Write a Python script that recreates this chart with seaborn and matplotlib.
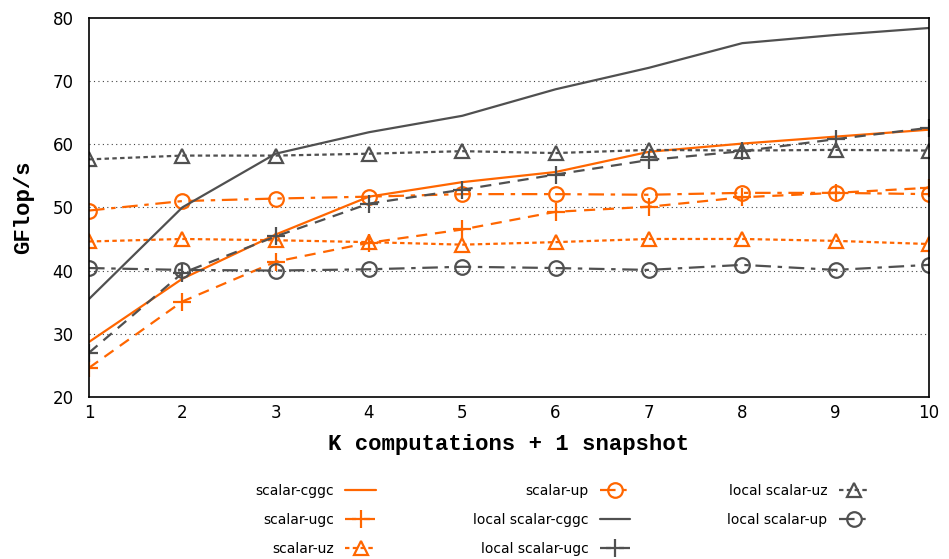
import numpy as np
import pandas as pd
import matplotlib
matplotlib.use("Agg")
import matplotlib.pyplot as plt
import seaborn as sns

# values
k = [1, 2, 3, 4, 5, 6, 7, 8, 9, 10]
scalar_cggc = [28.7, 38.7, 45.7, 51.7, 54.0, 55.6, 58.8, 60.1, 61.2, 62.3]
scalar_ugc = [24.6, 35.1, 41.4, 44.4, 46.5, 49.3, 50.1, 51.6, 52.3, 53.1]
scalar_uz = [44.6, 45.0, 44.8, 44.5, 44.1, 44.5, 45.0, 45.0, 44.7, 44.2]
scalar_up = [49.5, 51.0, 51.4, 51.7, 52.1, 52.1, 52.0, 52.3, 52.3, 52.1]
local_cggc = [35.5, 50.0, 58.5, 61.9, 64.5, 68.7, 72.1, 76.0, 77.3, 78.4]
local_ugc = [27.0, 39.6, 45.4, 50.6, 52.8, 55.2, 57.5, 58.9, 60.8, 62.6]
local_uz = [57.6, 58.2, 58.2, 58.5, 58.9, 58.6, 59.1, 59.0, 59.1, 59.0]
local_up = [40.4, 40.1, 40.0, 40.2, 40.6, 40.4, 40.1, 40.9, 40.1, 40.9]

labels = ["scalar-cggc", "scalar-ugc", "scalar-uz", "scalar-up",
          "local scalar-cggc", "local scalar-ugc", "local scalar-uz", "local scalar-up"]
series = [scalar_cggc, scalar_ugc, scalar_uz, scalar_up,
          local_cggc, local_ugc, local_uz, local_up]

ORANGE = "#ff6600"
GRAY = "#505050"
colors = [ORANGE] * 4 + [GRAY] * 4
dashes = ["-", (0, (5, 3.5)), (0, (2, 1.5)), (0, (7, 3, 2, 3)),
          "-", (0, (5, 3.5)), (0, (2, 1.5)), (0, (7, 3, 2, 3))]
markers = [None, "+", "^", "o", None, "+", "^", "o"]

sns.set_style("white")
fig = plt.figure(figsize=(9.49, 5.59), dpi=100)
ax = fig.add_axes([0.0938, 0.290, 0.885, 0.678])

df = pd.DataFrame({"k": k})
for lab, vals, c, ls, m in zip(labels, series, colors, dashes, markers):
    df[lab] = vals
    msize = 13 if m == "+" else 10.5
    sns.lineplot(data=df, x="k", y=lab, ax=ax, color=c, linestyle=ls,
                 marker=m, markersize=msize, markerfacecolor="none",
                 markeredgecolor=c, markeredgewidth=1.6, linewidth=1.6,
                 label=lab, legend=False)

ax.set_xlim(1, 10)
ax.set_ylim(20, 80)
ax.set_xticks(k)
ax.set_yticks(range(20, 81, 10))
ax.tick_params(labelsize=12, length=0, labelcolor="black")
ax.tick_params(axis="x", pad=5)
ax.tick_params(axis="y", pad=11)
for y in range(30, 80, 10):
    ax.axhline(y, color="#444444", linestyle=(0, (1, 3)), linewidth=0.8, zorder=0)
for s in ax.spines.values():
    s.set_color("black")
    s.set_linewidth(1.2)

ax.set_xlabel("K computations + 1 snapshot", family="Liberation Mono",
              fontweight="bold", fontsize=16, labelpad=9, color="black")
ax.set_ylabel("GFlop/s", family="Liberation Mono", fontweight="bold",
              fontsize=16, labelpad=13, color="black")

handles, labs = ax.get_legend_handles_labels()
fig.legend(handles, labs, loc="upper left", bbox_to_anchor=(0.262, 0.147),
           ncol=3, frameon=False, markerfirst=False, fontsize=10,
           handlelength=2.2, columnspacing=7.0, labelspacing=1.1,
           borderpad=0, labelcolor="black")

fig.savefig("out.png", dpi=100)
